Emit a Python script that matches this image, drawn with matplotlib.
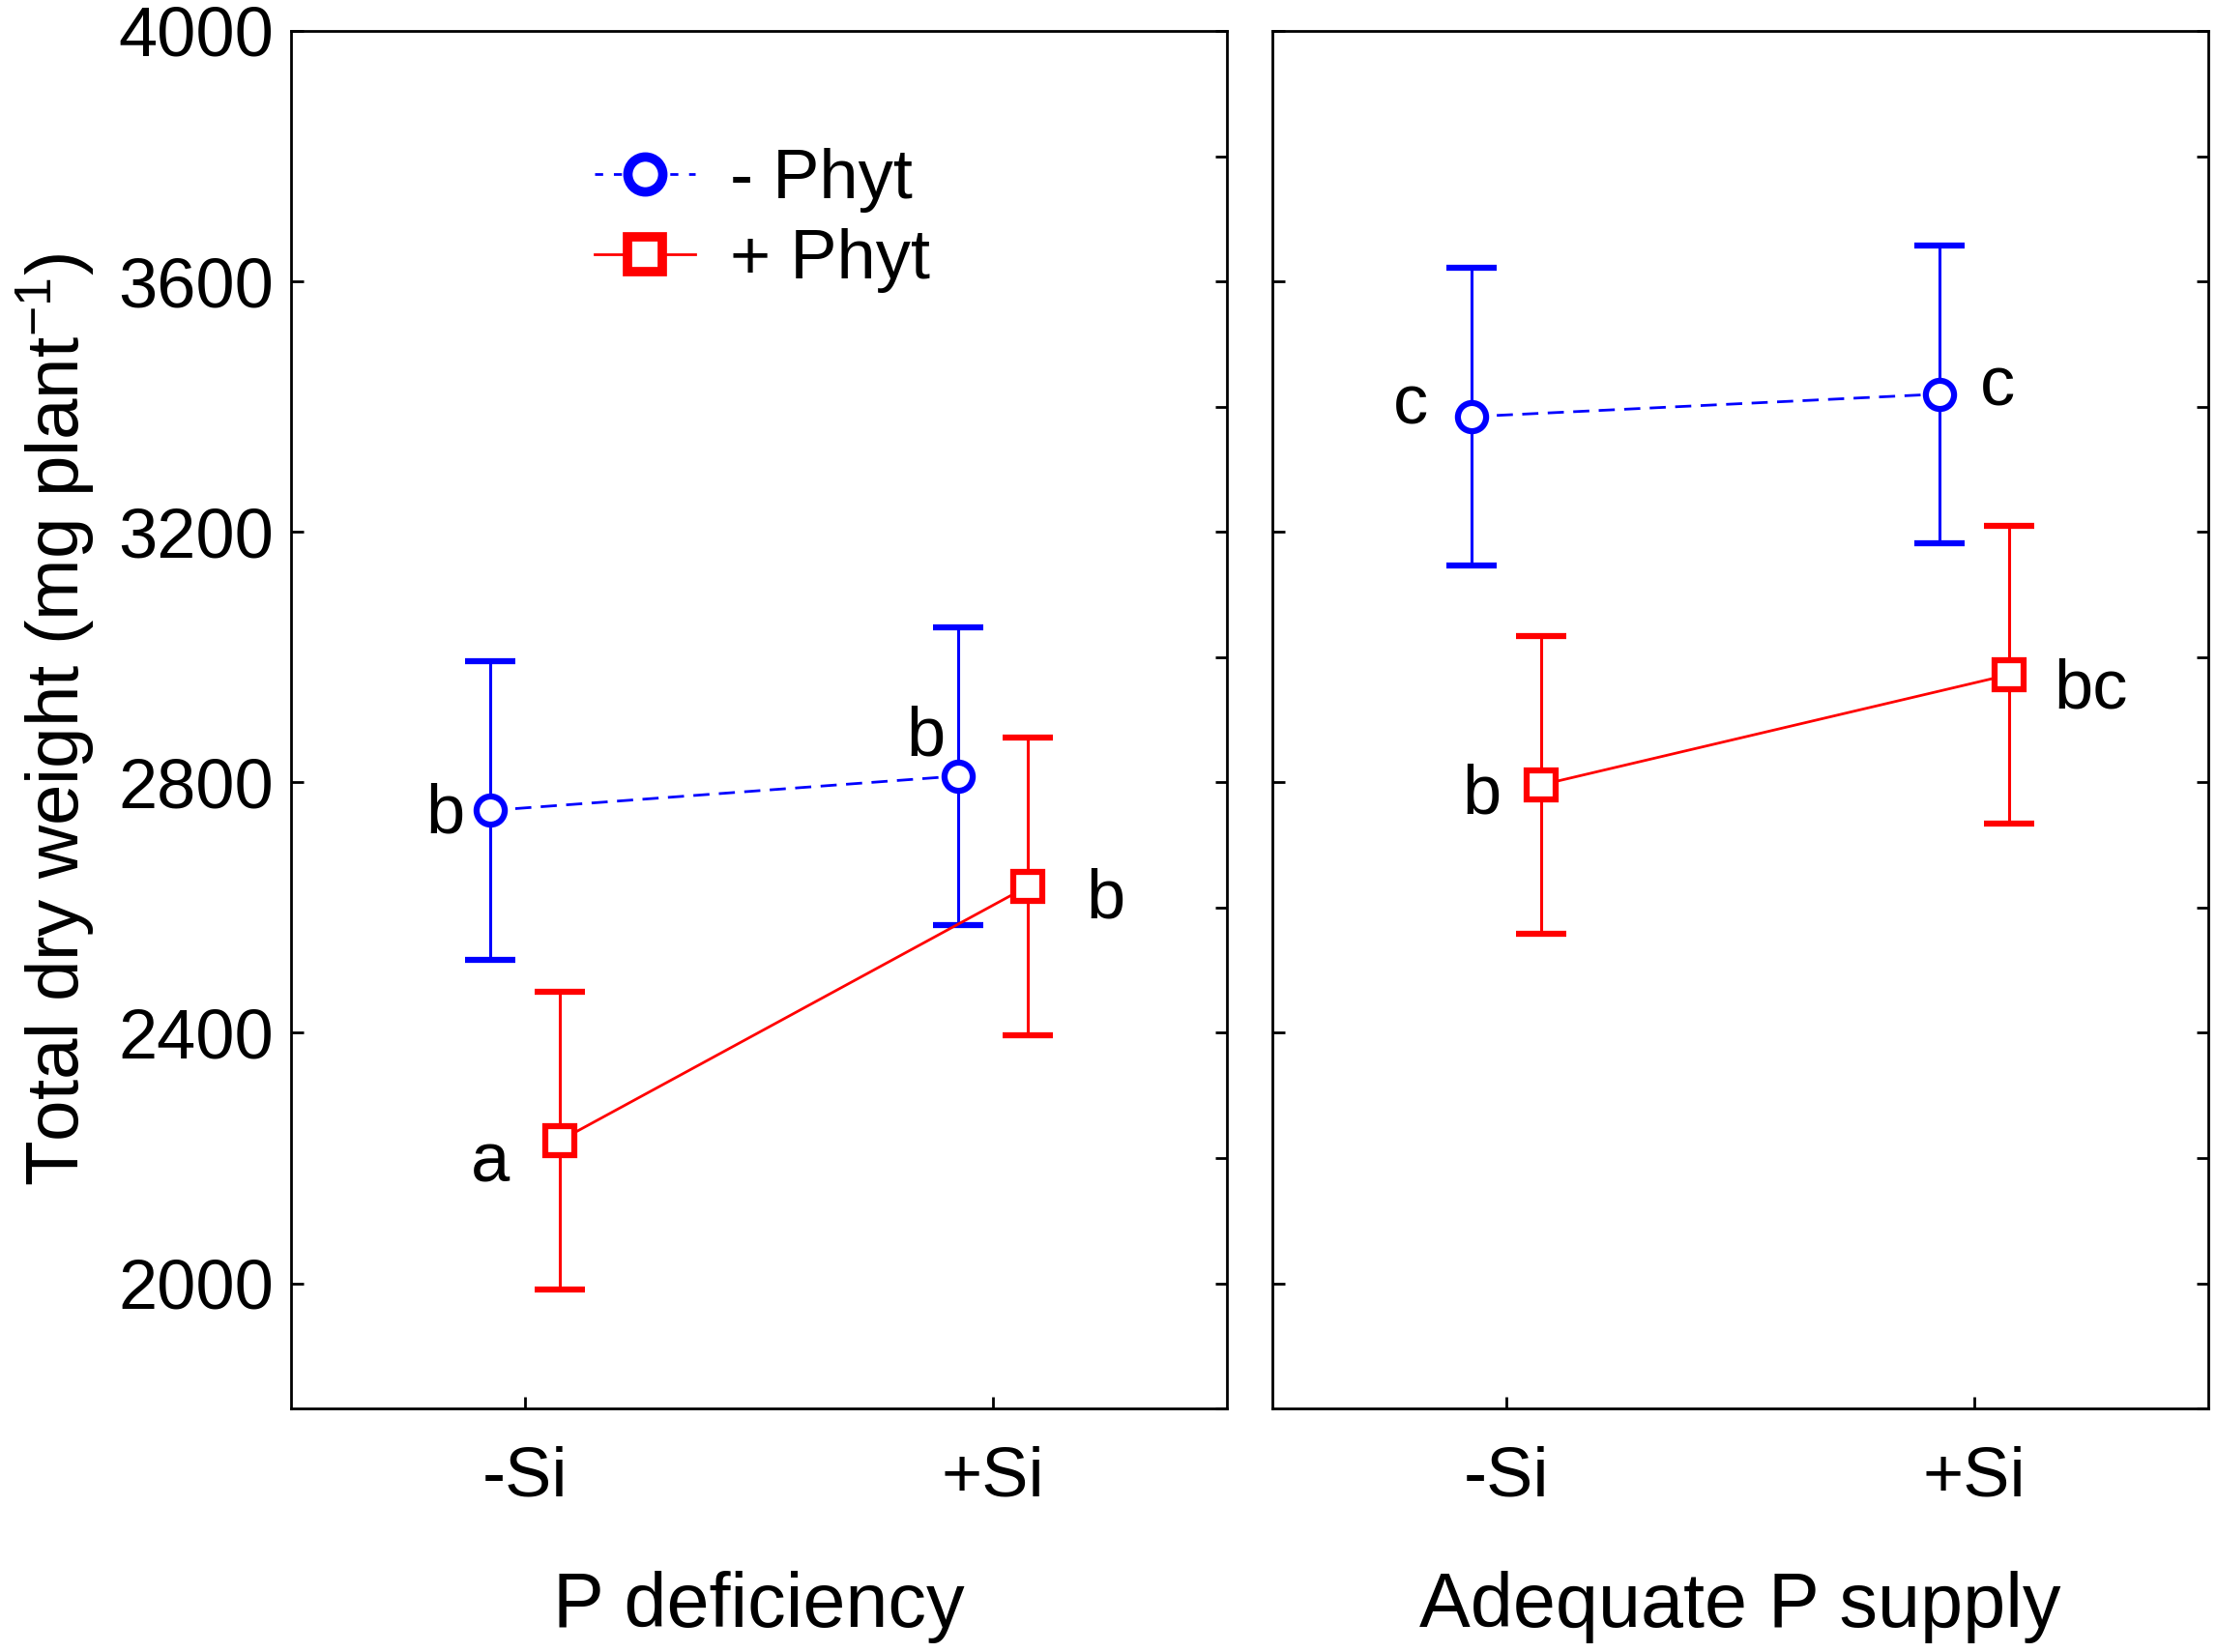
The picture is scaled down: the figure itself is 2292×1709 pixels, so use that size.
import matplotlib
matplotlib.use("Agg")
import matplotlib.pyplot as plt
from matplotlib.lines import Line2D
from matplotlib.ticker import MultipleLocator

plt.rcParams['font.family'] = ['Liberation Sans', 'DejaVu Sans']
plt.rcParams['mathtext.fontset'] = 'custom'
plt.rcParams['mathtext.rm'] = 'Liberation Sans'
plt.rcParams['mathtext.default'] = 'regular'

# ---- data ----
si_levels = ["-Si", "+Si"]
panels = ["P deficiency", "Adequate P supply"]
series_names = ["- Phyt", "+ Phyt"]

# P deficiency panel
pdef_minus_phyt = [2755, 2810]
pdef_minus_phyt_err = [238, 238]
pdef_plus_phyt = [2228, 2634]
pdef_plus_phyt_err = [238, 238]
# Adequate P panel
padq_minus_phyt = [3384, 3420]
padq_minus_phyt_err = [238, 238]
padq_plus_phyt = [2796, 2972]
padq_plus_phyt_err = [238, 238]

pdef_minus_letters = ["b", "b"]
pdef_plus_letters = ["a", "b"]
padq_minus_letters = ["c", "c"]
padq_plus_letters = ["b", "bc"]

# letter positions (x, y in data units)
pdef_minus_pos = [(-0.171, 2719), (0.857, 2843)]
pdef_plus_pos = [(-0.075, 2162), (1.241, 2584)]
padq_minus_pos = [(-0.204, 3373), (1.05, 3402)]
padq_plus_pos = [(-0.053, 2751), (1.249, 2918)]

BLUE = "#0000ff"
RED = "#ff0000"
FS = 52
XLFS = 57
YLFS = 55
offset = 0.075

fig = plt.figure(figsize=(22.92, 17.09), dpi=100)
axL = fig.add_axes([0.1313, 0.1474, 0.4223, 0.8339])
axR = fig.add_axes([0.5742, 0.1474, 0.4223, 0.8339])

panel_data = [
    (axL, pdef_minus_phyt, pdef_minus_phyt_err, pdef_plus_phyt, pdef_plus_phyt_err,
     pdef_minus_letters, pdef_plus_letters, pdef_minus_pos, pdef_plus_pos, panels[0]),
    (axR, padq_minus_phyt, padq_minus_phyt_err, padq_plus_phyt, padq_plus_phyt_err,
     padq_minus_letters, padq_plus_letters, padq_minus_pos, padq_plus_pos, panels[1]),
]

for i, (ax, ym, em, yp, ep, lm, lp, pm, pp, title) in enumerate(panel_data):
    x = list(range(len(si_levels)))
    xm = [v - offset for v in x]
    xp = [v + offset for v in x]
    ax.errorbar(xm, ym, yerr=em, color=BLUE, lw=2.0, ls=(0, (6, 3.5)),
                marker='o', ms=21, mfc='white', mec=BLUE, mew=4.5,
                ecolor=BLUE, elinewidth=2.2, capsize=18.5, capthick=2.2, zorder=3)
    ax.errorbar(xp, yp, yerr=ep, color=RED, lw=2.0, ls='-',
                marker='s', ms=21, mfc='white', mec=RED, mew=4.5,
                ecolor=RED, elinewidth=2.2, capsize=18.5, capthick=2.2, zorder=3)
    for t, (tx, ty) in zip(lm, pm):
        ax.text(tx, ty, t, fontsize=FS, ha='center', va='baseline')
    for t, (tx, ty) in zip(lp, pp):
        ax.text(tx, ty, t, fontsize=FS, ha='center', va='baseline')

    ax.set_xlim(-0.5, 1.5)
    ax.set_ylim(1800, 4000)
    ax.set_xticks(x)
    ax.set_xticklabels(si_levels)
    ax.yaxis.set_major_locator(MultipleLocator(400))
    ax.yaxis.set_minor_locator(MultipleLocator(200))
    ax.set_yticks([2000, 2400, 2800, 3200, 3600, 4000])
    ax.tick_params(axis='both', which='both', direction='in', length=9, width=2,
                   labelsize=FS)
    ax.tick_params(axis='y', which='major', left=True, right=True, pad=13)
    ax.tick_params(axis='y', which='minor', left=False, right=True)
    ax.tick_params(axis='x', which='major', bottom=True, top=False, pad=28)
    for s in ax.spines.values():
        s.set_linewidth(2)
    ax.set_xlabel(title, fontsize=XLFS, labelpad=45)
    if i == 1:
        ax.tick_params(axis='y', labelleft=False)

axL.set_ylabel("Total dry weight (mg plant$^{-1}$)", fontsize=YLFS, labelpad=16)

handles = [
    Line2D([], [], color=BLUE, lw=2.0, ls=(0, (3, 4)), marker='o', ms=26,
           mfc='white', mec=BLUE, mew=7),
    Line2D([], [], color=RED, lw=2.0, ls='-', marker='s', ms=26,
           mfc='white', mec=RED, mew=7),
]
axL.legend(handles, series_names, loc='upper left', bbox_to_anchor=(0.324, 0.915),
           frameon=False, fontsize=FS, handlelength=1.45, handletextpad=0.5,
           labelspacing=0.22, borderpad=0, borderaxespad=0)

fig.savefig("out.png", dpi=100, facecolor='white')
